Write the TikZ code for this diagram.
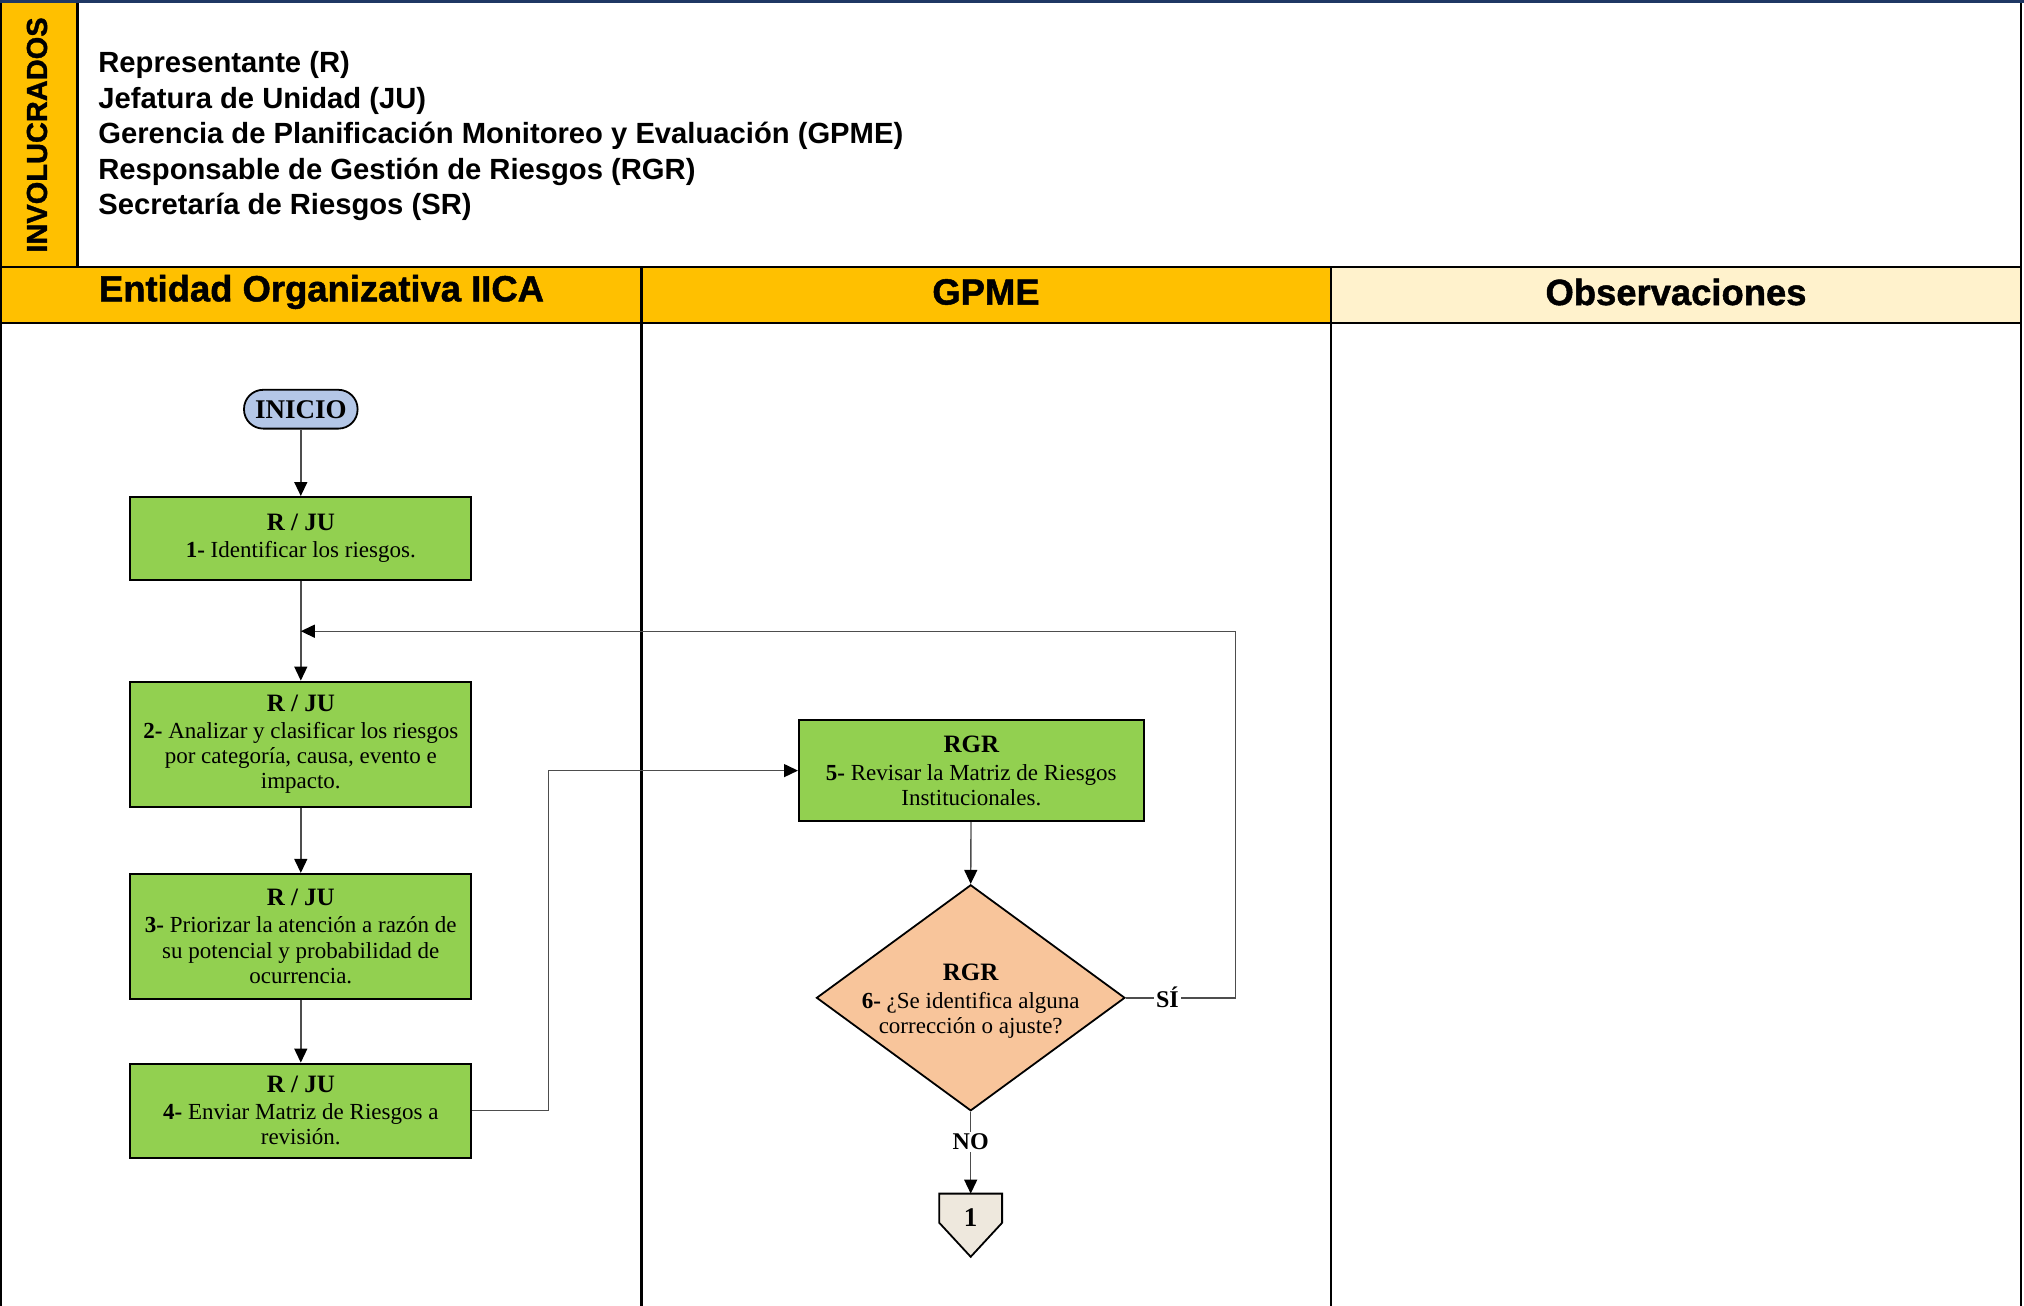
\documentclass[tikz,border=0pt]{standalone}
\usepackage{fontspec}
\setmainfont{Liberation Serif}
\setsansfont{Liberation Sans}
\newfontfamily\heavysans[FakeBold=1.3]{Liberation Sans Bold}
\usetikzlibrary{arrows.meta,shapes.geometric,calc,backgrounds}
\definecolor{laneyellow}{HTML}{FFC000}
\definecolor{obscream}{HTML}{FFF2CC}
\definecolor{stepgreen}{HTML}{92D050}
\definecolor{decpeach}{HTML}{F8C59B}
\definecolor{startblue}{HTML}{B4C7E7}
\definecolor{connbeige}{HTML}{EEE8DD}
\definecolor{navyline}{HTML}{1F3864}
\definecolor{linegray}{HTML}{4D4D4D}
\begin{document}
\begin{tikzpicture}[x=0.5pt,y=-0.5pt,
  lane/.style={line width=1.2pt,draw=black},
  hdr/.style={font=\heavysans\fontsize{18.2}{20}\selectfont,inner sep=0pt},
  part/.style={font=\sffamily\bfseries\fontsize{14.6}{17}\selectfont,anchor=west,inner sep=0pt},
  stepbox/.style={draw=black,line width=1pt,fill=stepgreen,minimum width=170.4pt,align=center,inner sep=1pt,font=\fontsize{11.5}{12.6}\selectfont},
  startnode/.style={draw=black,line width=0.9pt,fill=startblue,rounded corners=9.6pt,minimum width=56.8pt,minimum height=19.4pt,inner sep=0pt,font=\bfseries\fontsize{13.5}{15}\selectfont},
  decision/.style={diamond,draw=black,line width=0.9pt,fill=decpeach,minimum width=154.25pt,minimum height=113pt,inner sep=0pt},
  dectext/.style={align=center,inner sep=0pt,font=\fontsize{11.5}{12.6}\selectfont},
  conn/.style={minimum width=31pt,minimum height=14.2pt,inner sep=0pt},
  flow/.style={draw=linegray,line width=0.7pt,-{Triangle[length=7pt,width=6.5pt,color=black]}},
  lbl/.style={fill=white,inner sep=1pt,font=\bfseries\fontsize{12}{14}\selectfont}
]
\useasboundingbox (0,0) rectangle (2024,1306);
\begin{scope}[on background layer]
\fill[white] (0,0) rectangle (2024,1306);
\end{scope}
% involucrados band
\fill[laneyellow] (0,0) rectangle (77.5,267);
\node[rotate=90,font=\heavysans\fontsize{14.5}{16}\selectfont,inner sep=0pt] (inv) at (37,135) {INVOLUCRADOS};
\node[part] (p1) at (98,64.5) {Representante (R)};
\node[part] (p2) at (98,100.5) {Jefatura de Unidad (JU)};
\node[part] (p3) at (98,135.5) {Gerencia de Planificación Monitoreo y Evaluación (GPME)};
\node[part] (p4) at (98,171.5) {Responsable de Gestión de Riesgos (RGR)};
\node[part] (p5) at (98,206.5) {Secretaría de Riesgos (SR)};
% header row
\fill[laneyellow] (0,267) rectangle (1331,323);
\fill[obscream] (1331,267) rectangle (2021,323);
\node[hdr] (h1) at (321.5,292) {Entidad Organizativa IICA};
\node[hdr] (h2) at (986,292) {GPME};
\node[hdr] (h3) at (1676,292) {Observaciones};
% lines
\draw[lane] (77.5,1) -- (77.5,267);
\draw[lane] (0,267) -- (2021,267);
\draw[lane] (0,323) -- (2021,323);
\draw[lane] (641.5,267) -- (641.5,1306);
\draw[lane] (1331,267) -- (1331,1306);
\draw[lane] (1.2,0) -- (1.2,1306);
\draw[lane] (2021,0) -- (2021,1306);
\draw[line width=1.3pt,draw=navyline] (0,1.3) -- (2024,1.3);
% nodes
\node[startnode] (ini) at (300.8,409.2) {INICIO};
\node[stepbox,minimum height=41.3pt] (b1) at (300.8,538.3)
  {{\bfseries\fontsize{12.5}{14}\selectfont R / JU}\\[0.5pt]\textbf{1-} Identificar los riesgos.};
\node[stepbox,minimum height=62.6pt] (b2) at (300.8,744.2)
  {{\bfseries\fontsize{12.5}{14}\selectfont R / JU}\\[1pt]\textbf{2-} Analizar y clasificar los riesgos\\por categoría, causa, evento e\\impacto.};
\node[stepbox,minimum height=62.6pt] (b3) at (300.8,936.5)
  {{\bfseries\fontsize{12.5}{14}\selectfont R / JU}\\[1pt]\textbf{3-} Priorizar la atención a razón de\\su potencial y probabilidad de\\ocurrencia.};
\node[stepbox,minimum height=47.1pt] (b4) at (300.8,1110.7)
  {{\bfseries\fontsize{12.5}{14}\selectfont R / JU}\\[1pt]\textbf{4-} Enviar Matriz de Riesgos a\\revisión.};
\node[stepbox,minimum width=172.3pt,minimum height=50.4pt] (b5) at (971.3,770.6)
  {{\bfseries\fontsize{12.5}{14}\selectfont RGR}\\[1.5pt]\textbf{5-} Revisar la Matriz de Riesgos\\Institucionales.};
\node[decision] (d6) at (970.7,997.8) {};
\node[dectext] (d6t) at (970.7,1001) {{\bfseries\fontsize{12.5}{14}\selectfont RGR}\\[1.5pt]\textbf{6-} ¿Se identifica alguna\\corrección o ajuste?};
\node[conn] (c1) at (970.7,1208.2) {};
\draw[fill=connbeige,line width=0.9pt] (c1.north west) -- (c1.north east) -- (c1.south east) -- ($(c1.south)+(0,34)$) -- (c1.south west) -- cycle;
\node[inner sep=0pt,font=\bfseries\fontsize{13.5}{15}\selectfont] (c1t) at ($(c1.center)+(0,9)$) {1};
\coordinate (loopc) at (1235.3,631.2);
\coordinate (join) at (300.8,631.2);
% connectors
\draw[flow] (ini) -- (b1);
\draw[flow] (b1) -- (b2);
\draw[flow] (b2) -- (b3);
\draw[flow] (b3) -- (b4);
\draw[flow] (b4.east) -- ++(76.2,0) |- (b5.west);
\draw[flow] (b5) -- (d6.north);
\draw[flow] (d6.east) -- node[lbl,pos=0.38] {SÍ} (d6.east -| loopc) -- (loopc) -- (join);
\draw[flow] (d6.south) -- node[lbl,pos=0.37] {NO} (c1.north);
\end{tikzpicture}
\end{document}
